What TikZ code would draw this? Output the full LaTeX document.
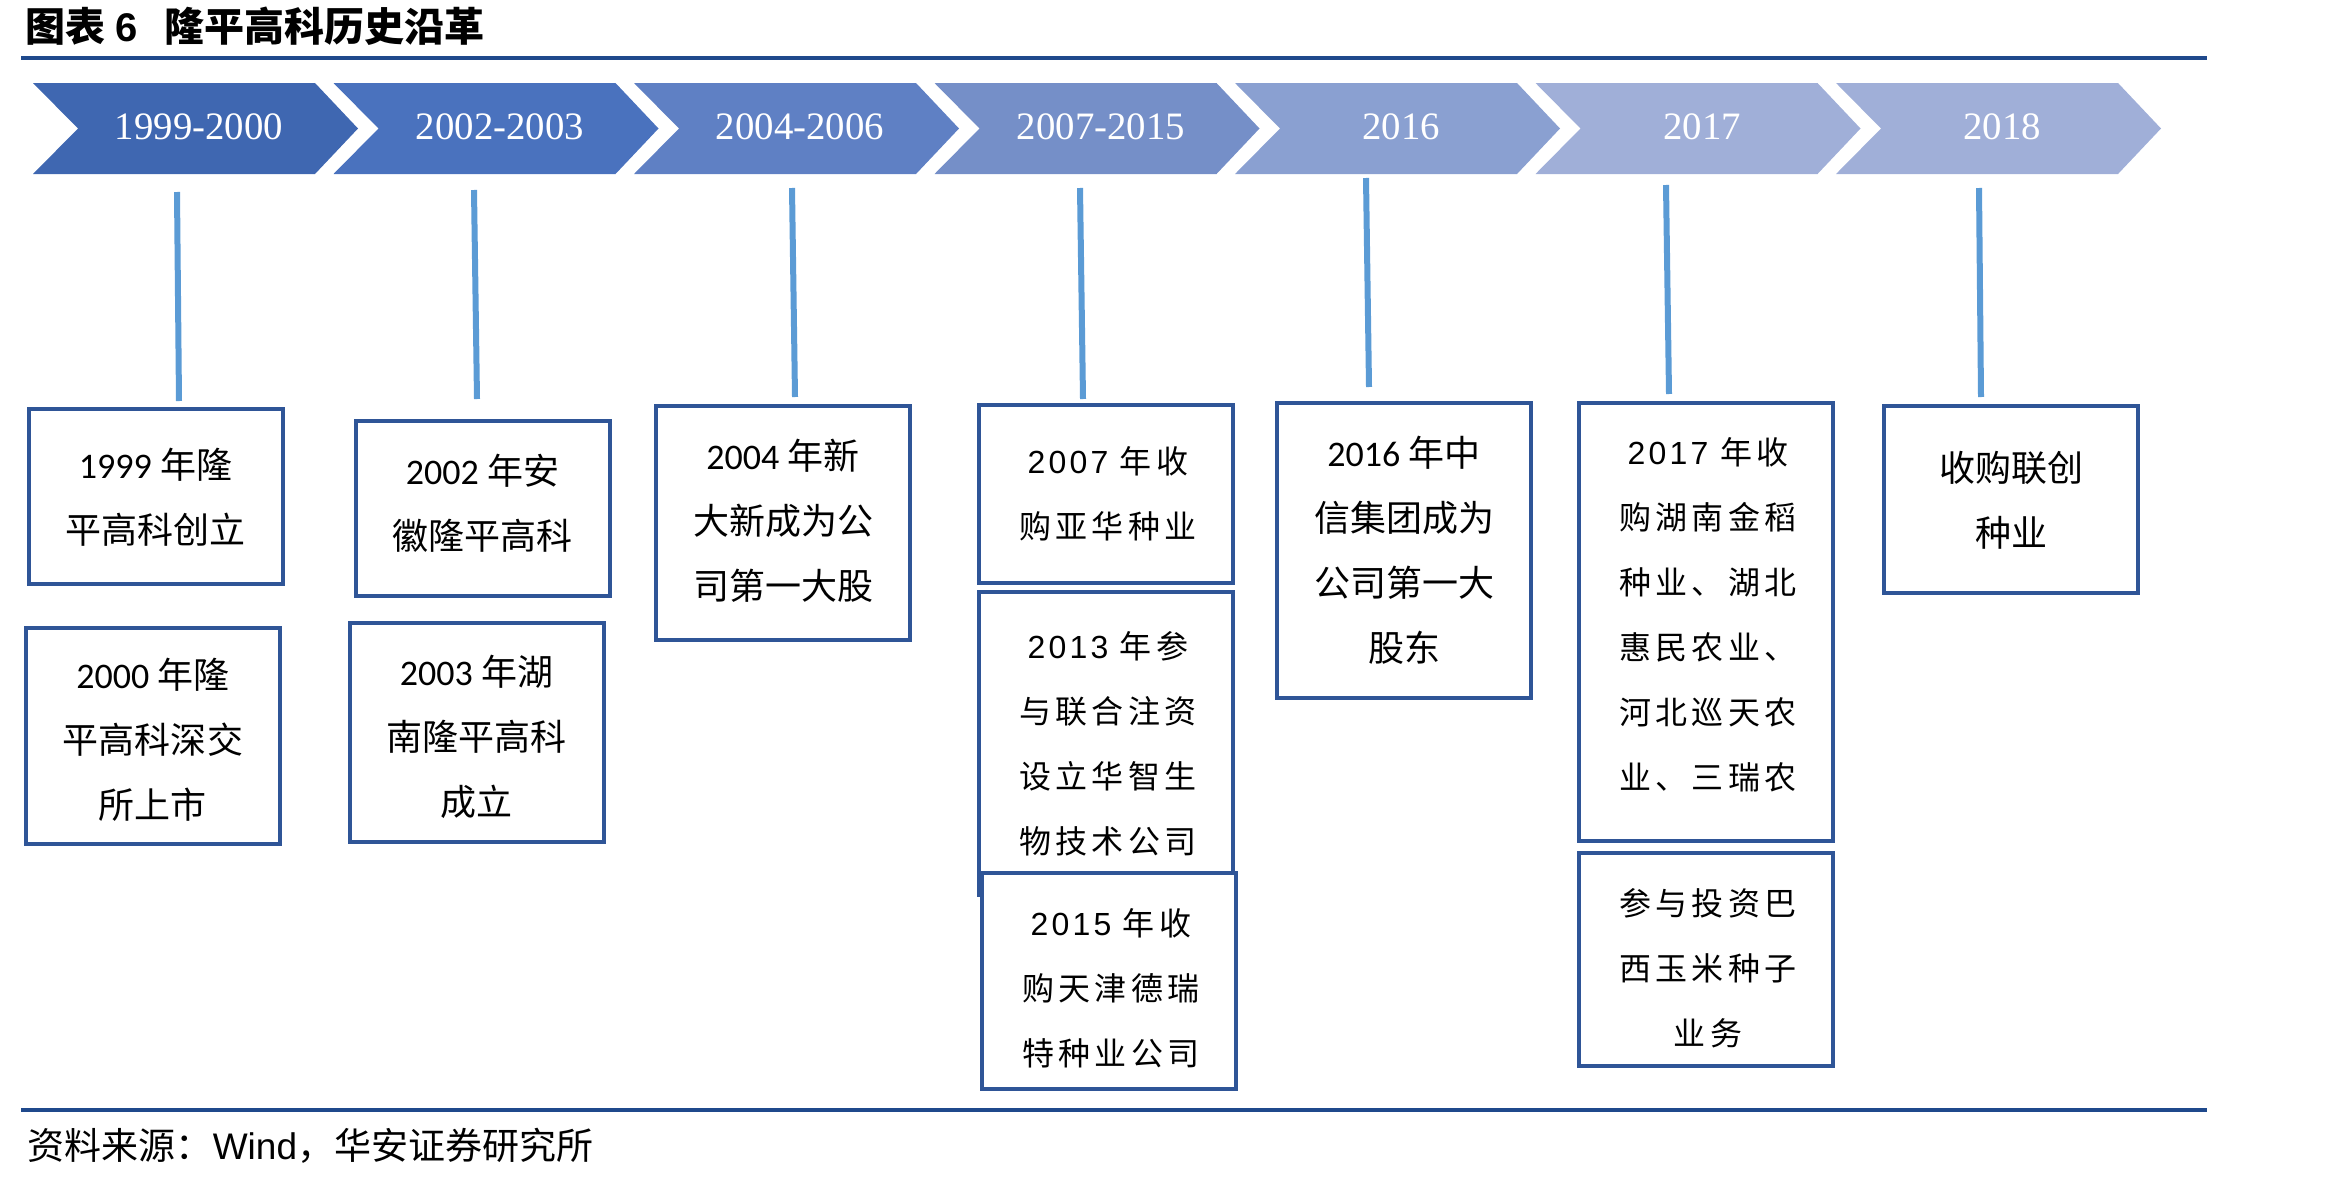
\documentclass[tikz,border=0pt]{standalone}
\usepackage{fontspec}
\newfontfamily\cjk{Noto Sans CJK SC}
\newfontfamily\cjksp{Noto Sans CJK SC}[LetterSpace=14]
\newfontfamily\carl{Carlito}
\newfontfamily\lsans{Liberation Sans}
\newfontfamily\lsanssp{Liberation Sans}[LetterSpace=10]
\newfontfamily\lserif{Liberation Serif}
\definecolor{navy}{RGB}{31,73,140}
\definecolor{boxc}{RGB}{47,85,151}
\definecolor{conncol}{RGB}{91,155,213}
\definecolor{chA}{RGB}{63,103,177}
\definecolor{chB}{RGB}{74,114,190}
\definecolor{chC}{RGB}{95,128,196}
\definecolor{chD}{RGB}{117,143,200}
\definecolor{chE}{RGB}{138,160,209}
\definecolor{chF}{RGB}{160,175,216}
\definecolor{chG}{RGB}{160,175,216}
\newcommand{\dg}[1]{{\carl #1}}
\newcommand{\dgs}[1]{{\lsanssp\fontsize{8}{16.25}\selectfont #1}}
\begin{document}
\begin{tikzpicture}[x=0.25pt,y=-0.25pt,
  rulestyle/.style={draw=navy,line width=1.1pt},
  chevtext/.style={text=white,inner sep=0pt,font=\lserif\fontsize{9.7}{12}\selectfont},
  conn/.style={draw=conncol,line width=1.5pt},
  evbox/.style={draw=boxc,line width=1pt,fill=white,inner sep=0pt,minimum width=63.5pt},
  evtext/.style={inner sep=0pt,align=center,font=\cjk\fontsize{9}{16.25}\selectfont},
  evtextsp/.style={inner sep=0pt,align=center,font=\cjksp\fontsize{8}{16.25}\selectfont}
]
\useasboundingbox (0,0) rectangle (2333,1178);
% title
\node[anchor=west,inner sep=0pt,font=\cjk\bfseries\fontsize{10}{12}\selectfont] (title) at (25,26) {图表\hspace{2.5pt}{\lsans\bfseries 6}\hspace{6.5pt}隆平高科历史沿革};
\draw[rulestyle] (21,58) -- (2207,58);
% chevrons
\foreach \L/\c in {33/chA,333.5/chB,634/chC,934.5/chD,1235/chE,1535.5/chF,1836/chG}{
  \fill[\c] (\L,83) -- (\L+282,83) -- (\L+325,128.5) -- (\L+282,174) -- (\L,174) -- (\L+45,128.5) -- cycle;
}
\node[chevtext] (y1) at (199,127) {1999-2000};
\node[chevtext] (y2) at (500,127) {2002-2003};
\node[chevtext] (y3) at (800,127) {2004-2006};
\node[chevtext] (y4) at (1101,127) {2007-2015};
\node[chevtext] (y5) at (1401,127) {2016};
\node[chevtext] (y6) at (1702,127) {2017};
\node[chevtext] (y7) at (2002,127) {2018};
% connectors
\coordinate (c1t) at (177,192); \coordinate (c1b) at (179,401);
\coordinate (c2t) at (474,190); \coordinate (c2b) at (477,399);
\coordinate (c3t) at (792,188); \coordinate (c3b) at (795,397);
\coordinate (c4t) at (1080,188); \coordinate (c4b) at (1083,399);
\coordinate (c5t) at (1366,178); \coordinate (c5b) at (1369,387);
\coordinate (c6t) at (1666,185); \coordinate (c6b) at (1669,394);
\coordinate (c7t) at (1979,188); \coordinate (c7b) at (1981,397);
\foreach \k in {1,...,7}{\draw[conn] (c\k t) -- (c\k b);}
% boxes
\node[evbox,minimum height=43.75pt] (A) at (155.5,496.5) {};
\node[evtext] (At) at (155.5,497) {\dg{1999} 年隆\\平高科创立};
\node[evbox,minimum height=54pt] (B) at (153,736) {};
\node[evtext] (Bt) at (153,740) {\dg{2000} 年隆\\平高科深交\\所上市};
\node[evbox,minimum height=43.75pt] (C) at (482.5,508.5) {};
\node[evtext] (Ct) at (482.5,503) {\dg{2002} 年安\\徽隆平高科};
\node[evbox,minimum height=54.75pt] (D) at (476.5,732.5) {};
\node[evtext] (Dt) at (476.5,737) {\dg{2003} 年湖\\南隆平高科\\成立};
\node[evbox,minimum height=58.5pt] (E) at (783,523) {};
\node[evtext] (Et) at (783,521) {\dg{2004} 年新\\大新成为公\\司第一大股};
\node[evbox,minimum height=44.5pt] (F) at (1106,494) {};
\node[evtextsp] (Ft) at (1108,494) {\dgs{2007} 年收\\购亚华种业};
\node[evbox,minimum height=75.75pt] (G) at (1106,743.5) {};
\node[evtextsp] (Gt) at (1108,744) {\dgs{2013} 年参\\与联合注资\\设立华智生\\物技术公司};
\node[evbox,minimum height=54pt] (H) at (1109,981) {};
\node[evtextsp] (Ht) at (1111,988) {\dgs{2015} 年收\\购天津德瑞\\特种业公司};
\node[evbox,minimum height=73.75pt] (I) at (1404,550.5) {};
\node[evtext] (It) at (1404,550.5) {\dg{2016} 年中\\信集团成为\\公司第一大\\股东};
\node[evbox,minimum height=109.5pt] (J) at (1706,622) {};
\node[evtextsp] (Jt) at (1708,615) {\dgs{2017} 年收\\购湖南金稻\\种业、湖北\\惠民农业、\\河北巡天农\\业、三瑞农};
\node[evbox,minimum height=53.25pt] (K) at (1706,959.5) {};
\node[evtextsp] (Kt) at (1708,968) {参与投资巴\\西玉米种子\\业务};
\node[evbox,minimum height=46.75pt] (L) at (2011,499.5) {};
\node[evtext] (Lt) at (2011,500) {收购联创\\种业};
% bottom
\draw[rulestyle] (21,1110) -- (2207,1110);
\node[anchor=west,inner sep=0pt,font=\cjk\fontsize{9.25}{11}\selectfont] (src) at (27,1146) {资料来源：{\lsans Wind}，华安证券研究所};
\end{tikzpicture}
\end{document}
